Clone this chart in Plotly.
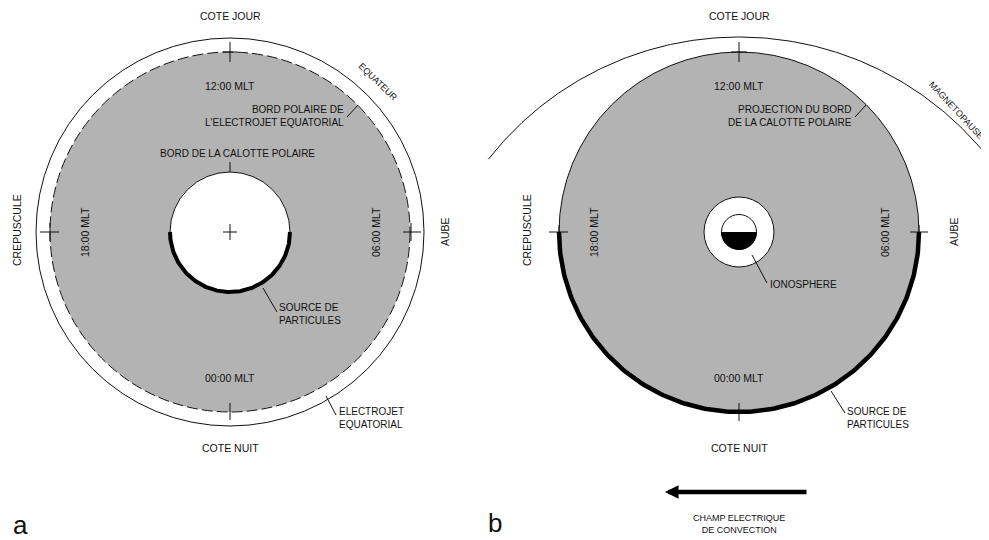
import numpy as np
import plotly.graph_objects as go

# ---------------- data ----------------
panel_letters = ["a", "b"]
centers_x = [230, 739]
center_y = 232
r_equator = 194          # panel a outer circle (equateur)
r_region = 180           # grey region (both panels)
r_cap = 60               # polar cap, panel a
r_iono_ring = 35         # white ring, panel b
r_iono = 17.5            # ionosphere disc, panel b
magnetopause_r = 318
magnetopause_cy = 355

top_labels = ["COTE JOUR", "COTE JOUR"]
bottom_labels = ["COTE NUIT", "COTE NUIT"]
noon_labels = ["12:00 MLT", "12:00 MLT"]
midnight_labels = ["00:00 MLT", "00:00 MLT"]
dusk_mlt = ["18:00 MLT", "18:00 MLT"]
dawn_mlt = ["06:00 MLT", "06:00 MLT"]
dusk_labels = ["CREPUSCULE", "CREPUSCULE"]
dawn_labels = ["AUBE", "AUBE"]
boundary_labels = ["BORD POLAIRE DE<br>L'ELECTROJET EQUATORIAL",
                   "PROJECTION DU BORD<br>DE LA CALOTTE POLAIRE"]
source_label = "SOURCE DE<br>PARTICULES"
cap_label = "BORD DE LA CALOTTE POLAIRE"
electrojet_label = "ELECTROJET<br>EQUATORIAL"
equator_label = "EQUATEUR"
magnetopause_label = "MAGNETOPAUSE"
iono_label = "IONOSPHERE"
field_label = "CHAMP ELECTRIQUE<br>DE CONVECTION"

GREY = "#b3b3b3"
INK = "#111111"
FONT = "Liberation Sans, Arial, sans-serif"
PAGE_OFFSET = 8   # default body margin of the html page

fig = go.Figure()
shapes = []
annotations = []


def circle(cx, cy, r, fill="rgba(0,0,0,0)", color=INK, width=1, dash="solid"):
    shapes.append(dict(type="circle", xref="x", yref="y", x0=cx - r, x1=cx + r,
                       y0=cy - r, y1=cy + r, fillcolor=fill,
                       line=dict(color=color, width=width, dash=dash), layer="below"))


def seg(x0, y0, x1, y1, width=1):
    shapes.append(dict(type="line", xref="x", yref="y", x0=x0, y0=y0, x1=x1, y1=y1,
                       line=dict(color=INK, width=width), layer="below"))


def text(x, y, t, size=10, angle=0, xanchor="center", align="center"):
    annotations.append(dict(x=x, y=y, xref="x", yref="y", text=t, showarrow=False,
                            textangle=angle, xanchor=xanchor, yanchor="middle",
                            align=align, font=dict(family=FONT, size=size, color=INK)))


def arc(cx, cy, r, t0, t1, width, color="black"):
    th = np.linspace(np.radians(t0), np.radians(t1), 200)
    fig.add_trace(go.Scatter(x=cx + r * np.cos(th), y=cy + r * np.sin(th), mode="lines",
                             line=dict(color=color, width=width), hoverinfo="skip",
                             showlegend=False))


# ---------------- panel a ----------------
ca = centers_x[0]
circle(ca, center_y, r_equator, fill="white", width=1)
circle(ca, center_y, r_region, fill=GREY, width=1, dash="11px,4px")
circle(ca, center_y, r_cap, fill="white", width=1)
arc(ca, center_y, r_cap, 0, 180, 4)
# crosses
seg(ca, 42, ca, 62); seg(ca - 7, 52, ca + 7, 52)
seg(ca, center_y - 8, ca, center_y + 8); seg(ca - 7, center_y, ca + 7, center_y)
seg(40, center_y, 59, center_y); seg(50, center_y - 9, 50, center_y + 9)
seg(403, center_y, 421, center_y); seg(411, center_y - 9, 411, center_y + 9)
seg(ca, 403, ca, 420)
seg(ca, 162, ca, 172)
# leader lines
seg(347, 117, 358, 105)
seg(263, 288, 277, 312)
seg(326, 396, 336, 415)

# ---------------- panel b ----------------
cb = centers_x[1]
arc(cb, magnetopause_cy, magnetopause_r, 218, 323, 1, INK)
circle(cb, center_y, r_region, fill=GREY, width=1)
circle(cb, center_y, r_iono_ring, fill="white", width=1)
circle(cb, center_y, r_iono, fill="white", width=1)
arc(cb, center_y, r_region, 0, 180, 4.5)
th2 = np.linspace(0, np.pi, 100)
fig.add_trace(go.Scatter(x=cb + r_iono * np.cos(th2), y=center_y + r_iono * np.sin(th2),
                         mode="lines", fill="toself", fillcolor="black",
                         line=dict(color="black", width=1), hoverinfo="skip", showlegend=False))
seg(cb, 42, cb, 62); seg(cb - 8, 52, cb + 8, 52)
seg(549, center_y, 568, center_y); seg(559, center_y - 7, 559, center_y + 7)
seg(910, center_y, 928, center_y); seg(919, center_y - 7, 919, center_y + 7)
seg(cb, 403, cb, 421)
seg(855, 117, 866, 105)
seg(752, 255, 767, 283)
seg(831, 391, 845, 413)
annotations.append(dict(x=665, y=492, ax=808, ay=492, xref="x", yref="y", axref="x",
                        ayref="y", showarrow=True, arrowhead=2, arrowsize=0.6,
                        arrowwidth=4.5, arrowcolor="black", text=""))

# ---------------- texts ----------------
for i, cx in enumerate(centers_x):
    text(cx, 16, top_labels[i], size=10.5)
    text(cx, 448, bottom_labels[i], size=10.5)
    text(cx, 86, noon_labels[i], size=10.5)
    text(cx, 378, midnight_labels[i], size=10.5)
    text(cx - 145, center_y, dusk_mlt[i], size=10.5, angle=-90)
    text(cx + 146, center_y, dawn_mlt[i], size=10.5, angle=-90)
    text(cx - 213 + (1 if i else 0), 230, dusk_labels[i], size=10.5, angle=-90)
    text(cx + 215, center_y, dawn_labels[i], size=10.5, angle=-90)

text(346, 116, boundary_labels[0], xanchor="right", align="right")
text(854, 116, boundary_labels[1], xanchor="right", align="right")
text(237, 153, cap_label)
text(277, 314, source_label, xanchor="left", align="left")
text(337, 418, electrojet_label, xanchor="left", align="left")
text(845, 418, source_label, xanchor="left", align="left")
text(378, 82, equator_label, size=9, angle=44)
text(956, 110, magnetopause_label, size=9, angle=47)
text(768, 284, iono_label, xanchor="left")
text(cb, 524, field_label, size=9)
text(20, 525, panel_letters[0], size=26)
text(495, 523, panel_letters[1], size=26)

fig.update_layout(
    width=989 - PAGE_OFFSET, height=540 - PAGE_OFFSET, margin=dict(l=0, r=0, t=0, b=0),
    paper_bgcolor="white", plot_bgcolor="white",
    shapes=shapes, annotations=annotations, showlegend=False,
    xaxis=dict(range=[PAGE_OFFSET, 989], visible=False, fixedrange=True),
    yaxis=dict(range=[540, PAGE_OFFSET], visible=False, fixedrange=True),
)
fig.write_html("out.html")
